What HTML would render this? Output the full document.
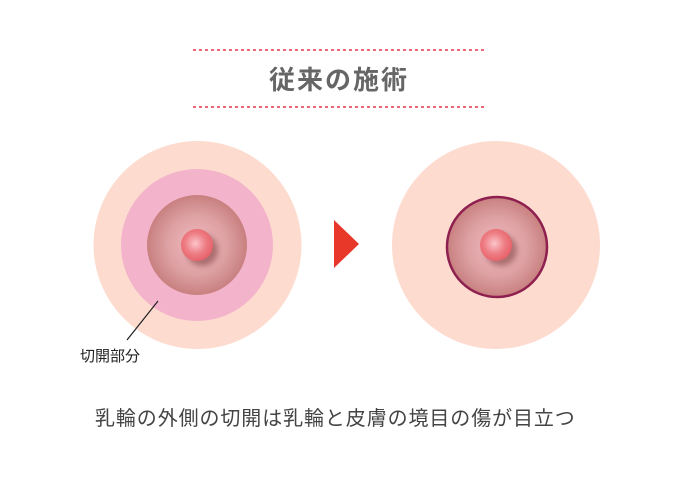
<!DOCTYPE html>
<html><head><meta charset="utf-8"><style>
html,body{margin:0;padding:0;background:#fff;width:680px;height:478px;overflow:hidden}
svg{display:block}
text{font-family:"Liberation Sans","Noto Sans CJK JP",sans-serif}
</style></head><body>
<svg width="680" height="478" viewBox="0 0 680 478" xmlns="http://www.w3.org/2000/svg">
<defs>
<radialGradient id="ar" cx="50%" cy="50%" r="50%">
<stop offset="0" stop-color="#f2bcc0"/><stop offset="0.6" stop-color="#dda0a3"/><stop offset="1" stop-color="#c8807f"/>
</radialGradient>
<radialGradient id="np" cx="45%" cy="45%" r="55%">
<stop offset="0" stop-color="#fbc5ca"/><stop offset="0.6" stop-color="#ee7d84"/><stop offset="1" stop-color="#e8636b"/>
</radialGradient>
<filter id="sh" x="-50%" y="-50%" width="200%" height="200%"><feGaussianBlur stdDeviation="3"/></filter>
</defs>
<line x1="193" y1="50" x2="486" y2="50" stroke="#e8324a" stroke-width="1.5" stroke-dasharray="3,3"/>
<line x1="193" y1="107" x2="486" y2="107" stroke="#e8324a" stroke-width="1.5" stroke-dasharray="3,3"/>
<text x="339" y="89" font-size="26" font-weight="bold" fill="#666" text-anchor="middle" letter-spacing="2">従来の施術</text>

<circle cx="197.5" cy="245" r="104" fill="#fddccf"/>
<circle cx="197" cy="245" r="76" fill="#f3b3cb"/>
<circle cx="197" cy="245" r="50" fill="url(#ar)"/>
<circle cx="202" cy="250" r="16" fill="#7a3a3a" opacity="0.55" filter="url(#sh)"/>
<circle cx="197" cy="245" r="16" fill="url(#np)"/>
<line x1="158" y1="301" x2="127" y2="340" stroke="#222" stroke-width="1.2"/>
<text x="80" y="361" font-size="15" fill="#222">切開部分</text>

<polygon points="334,220 359,244 334,268" fill="#e8382a"/>

<circle cx="496" cy="245" r="104" fill="#fddccf"/>
<circle cx="497" cy="247" r="50" fill="url(#ar)" stroke="#8e1f4f" stroke-width="2.5"/>
<circle cx="501" cy="250" r="16" fill="#7a3a3a" opacity="0.55" filter="url(#sh)"/>
<circle cx="496" cy="245" r="16" fill="url(#np)"/>

<text x="95" y="425" font-size="20" fill="#444" letter-spacing="0.9">乳輪の外側の切開は乳輪と皮膚の境目の傷が目立つ</text>
</svg>
</body></html>
